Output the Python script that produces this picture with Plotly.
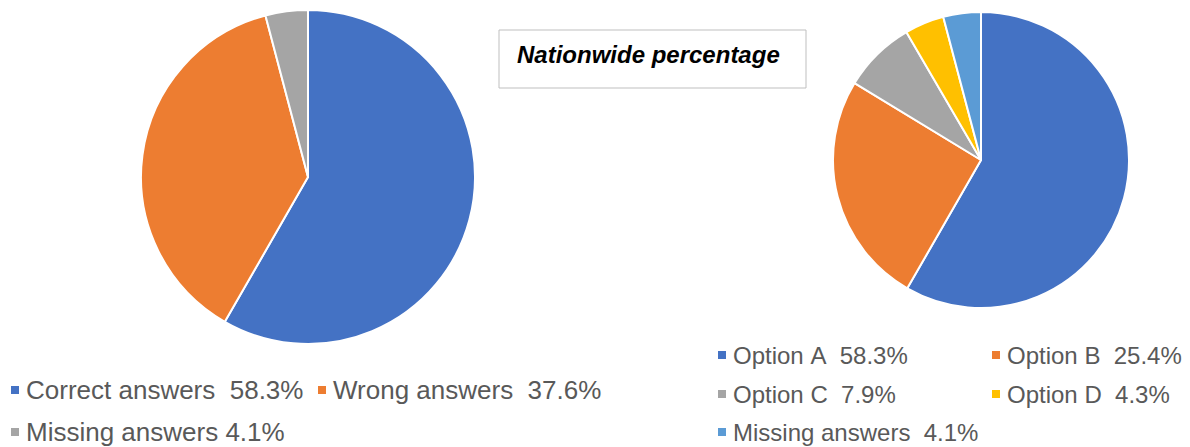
import plotly.graph_objects as go

# page has an 8px body margin, so the figure is sized and mapped to compensate
OFF = 8
W, H = 1190 - OFF, 447 - OFF

# ---- data ----
left_labels = ["Correct answers", "Wrong answers", "Missing answers"]
left_values = [58.3, 37.6, 4.1]
left_seps = ["  ", "  ", " "]

right_labels = ["Option A", "Option B", "Option C", "Option D", "Missing answers"]
right_values = [58.3, 25.4, 7.9, 4.3, 4.1]

title_text = "Nationwide percentage"

left_colors = ["#4472C4", "#ED7D31", "#A5A5A5"]
right_colors = ["#4472C4", "#ED7D31", "#A5A5A5", "#FFC000", "#5B9BD5"]

def px(x):
    return (x - OFF) / W

def py(y):
    return 1 - (y - OFF) / H

fig = go.Figure()

fig.add_trace(go.Pie(
    labels=left_labels, values=left_values, sort=False, direction="clockwise",
    rotation=0, marker=dict(colors=left_colors, line=dict(color="white", width=2)),
    textinfo="none", hoverinfo="label+percent", showlegend=False,
    domain=dict(x=[px(141), px(475)], y=[py(344), py(10)]),
))

fig.add_trace(go.Pie(
    labels=right_labels, values=right_values, sort=False, direction="clockwise",
    rotation=0, marker=dict(colors=right_colors, line=dict(color="white", width=2)),
    textinfo="none", hoverinfo="label+percent", showlegend=False,
    domain=dict(x=[px(833), px(1129)], y=[py(308), py(12)]),
))

annotations = []
shapes = []

def legend_item(x, y, color, text, size):
    sq = 8
    shapes.append(dict(type="rect", xref="paper", yref="paper",
                       x0=px(x), x1=px(x + sq), y0=py(y + sq / 2), y1=py(y - sq / 2),
                       fillcolor=color, line=dict(width=0)))
    annotations.append(dict(xref="paper", yref="paper", x=px(x + 13), y=py(y),
                            xanchor="left", yanchor="middle", showarrow=False,
                            text=text.replace(" ", "\u00a0"),
                            font=dict(family="Liberation Sans, Arial", size=size, color="#595959")))

left_pos = [(11, 390), (318, 390), (11, 432)]
for (x, y), lab, val, sep, col in zip(left_pos, left_labels, left_values, left_seps, left_colors):
    legend_item(x, y, col, f"{lab}{sep}{val}%", 26)

right_pos = [(718, 355), (992, 355), (718, 394), (992, 394), (718, 432)]
for (x, y), lab, val, col in zip(right_pos, right_labels, right_values, right_colors):
    legend_item(x, y, col, f"{lab}  {val}%", 24)

# title box
shapes.append(dict(type="rect", xref="paper", yref="paper",
                   x0=px(499), x1=px(806), y0=py(88), y1=py(30),
                   line=dict(color="#BFBFBF", width=1), fillcolor="white"))
annotations.append(dict(xref="paper", yref="paper", x=px(648), y=py(54),
                        xanchor="center", yanchor="middle", showarrow=False,
                        text=f"<b><i>{title_text}</i></b>",
                        font=dict(family="Liberation Sans, Arial", size=24, color="black")))

fig.update_layout(
    width=W, height=H, margin=dict(l=0, r=0, t=0, b=0),
    paper_bgcolor="white", plot_bgcolor="white",
    annotations=annotations, shapes=shapes,
)

fig.write_html("out.html")
